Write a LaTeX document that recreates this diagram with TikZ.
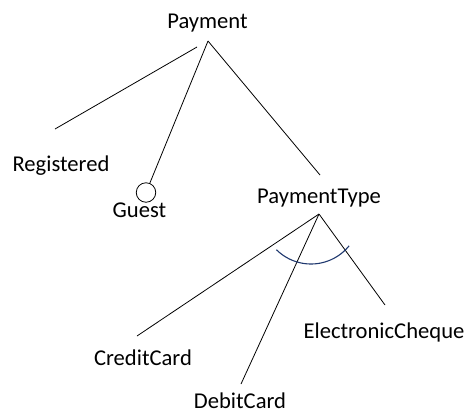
\documentclass[tikz,border=0pt]{standalone}
\usepackage{fontspec}
\setmainfont{Carlito}
\definecolor{arcblue}{RGB}{31,56,110}
\begin{document}
\begin{tikzpicture}[x=1bp,y=-1bp,
  lbl/.style={anchor=base,inner sep=0pt,font=\fontsize{22.6bp}{27bp}\selectfont},
  conn/.style={draw=black,line width=0.8bp},
  hollow/.style={circle,draw=black,line width=0.8bp,minimum size=19.5bp,inner sep=0pt}]
\useasboundingbox (0,0) rectangle (469,412);
% labels
\node[lbl] (payment) at (207.5,28.5) {Payment};
\node[lbl] (registered) at (61,171) {Registered};
\node[lbl] (guest) at (139.5,217) {Guest};
\node[lbl] (ptype) at (319,203) {PaymentType};
\node[lbl] (credit) at (143,365.5) {CreditCard};
\node[lbl] (debit) at (240,408.5) {DebitCard};
\node[lbl] (echeque) at (384,338) {ElectronicCheque};
% connector end points
\coordinate (payTop) at (208,41);
\coordinate (regStart) at (197,47);
\coordinate (regEnd) at (55,129);
\node[hollow] (guestCirc) at (146,192.5) {};
\coordinate (ptEnd) at (320,175);
\coordinate (ptTop) at (319,214);
\coordinate (ccEnd) at (137,336);
\coordinate (dcEnd) at (241,384);
\coordinate (ecEnd) at (385,305);
% connectors
\draw[conn] (regStart) -- (regEnd);
\draw[conn] (payTop) -- (guestCirc);
\draw[conn] (payTop) -- (ptEnd);
\draw[conn] (ptTop) -- (ccEnd);
\draw[conn] (ptTop) -- (dcEnd);
\draw[conn] (ptTop) -- (ecEnd);
% constraint arc
\draw[arcblue,line width=1.1bp] (311,215) ++(135:49) arc[start angle=135,end angle=39,radius=49];
\end{tikzpicture}
\end{document}
